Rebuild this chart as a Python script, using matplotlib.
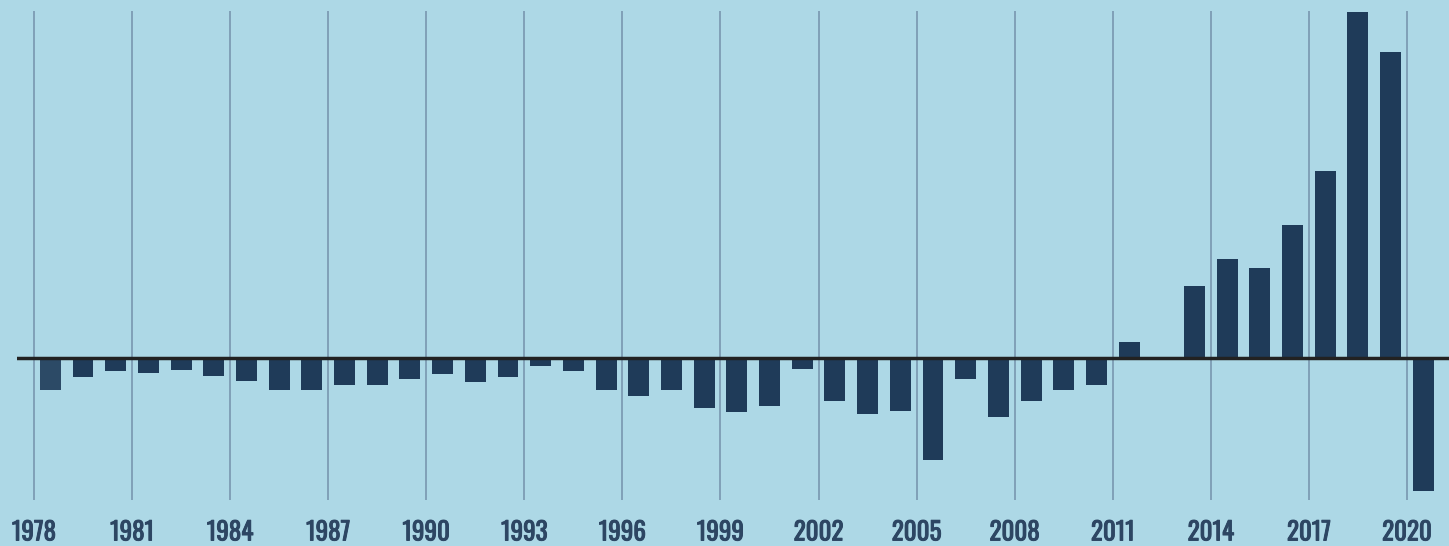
import matplotlib
matplotlib.use("Agg")
import matplotlib.pyplot as plt
import matplotlib.patheffects as pe

years = list(range(1978, 2021))
values = [-32, -19, -13, -15, -12, -18, -23, -32, -32, -27,
          -27, -21, -16, -24, -19, -8, -13, -32, -38, -32,
          -50, -54, -48, -11, -43, -56, -53, -102, -21, -59,
          -43, -32, -27, 16, 0, 72, 99, 90, 133, 187,
          346, 306, -133]
tick_years = list(range(1978, 2021, 3))
tick_labels = [str(y) for y in tick_years]

W, H = 1449, 546
BG = "#add8e6"
TXT = "#2d4663"
fig = plt.figure(figsize=(W / 100, H / 100), dpi=100, facecolor=BG)
ax = fig.add_axes([17 / W, 1 - 500 / H, 1 - 17 / W, (500 - 11) / H])
ax.set_facecolor(BG)

px_per_year = 32.69
ax.set_xlim(1978 - (34 - 17) / px_per_year, 1978 + (1449 - 34) / px_per_year)
ax.set_ylim(-142, 347)

for ty in tick_years:
    ax.axvline(ty, color="#7d9cb4", lw=1.3, zorder=0)

colors = ["#2c4a66"] + ["#1f3b59"] * (len(years) - 1)
ax.bar([y + 0.5 for y in years], values, width=0.64, color=colors, zorder=2)
ax.axhline(0, color="#222222", lw=2.5, zorder=3)

ax.set_xticks(tick_years)
labels = ax.set_xticklabels(tick_labels, fontsize=18, color=TXT,
                            family=["Oswald", "DejaVu Sans"])
for t in labels:
    t.set_path_effects([pe.withStroke(linewidth=0.7, foreground=TXT)])
ax.tick_params(axis="x", length=0, pad=14)
ax.set_yticks([])
for s in ax.spines.values():
    s.set_visible(False)

fig.savefig("out.png", dpi=100, facecolor=fig.get_facecolor())
